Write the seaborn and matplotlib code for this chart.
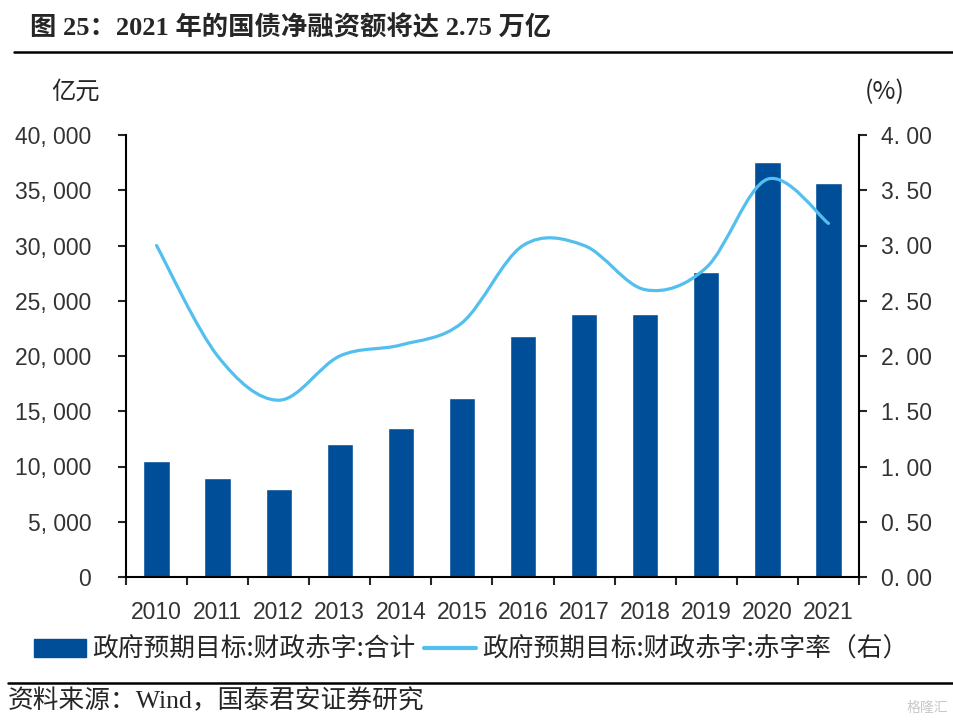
import matplotlib
matplotlib.use('Agg')
import matplotlib.pyplot as plt
import numpy as np
import pandas as pd
import seaborn as sns
from matplotlib.lines import Line2D
from matplotlib.patches import Patch, PathPatch
from matplotlib.path import Path
from matplotlib.ticker import FixedLocator

# Dados
anos = ['2010', '2011', '2012', '2013', '2014', '2015',
        '2016', '2017', '2018', '2019', '2020', '2021']
deficit = [10500, 9000, 8000, 12000, 13500, 16200,
           21800, 23800, 23800, 27600, 37600, 35700]   # 亿元
taxa = [3.0, 2.0, 1.6, 2.0, 2.1, 2.3, 3.0, 3.0, 2.6, 2.8, 3.6, 3.2]  # %

ticks_esq = [0, 5000, 10000, 15000, 20000, 25000, 30000, 35000, 40000]
ticks_dir = [0, 0.5, 1.0, 1.5, 2.0, 2.5, 3.0, 3.5, 4.0]

df = pd.DataFrame({'ano': anos, 'deficit': deficit, 'taxa': taxa})

azul = '#004E98'
azul_claro = '#52BFEF'
cinza = '#333333'

sns.set_style('ticks')
plt.rcParams['font.family'] = ['Noto Sans CJK SC', 'DejaVu Sans']
num = ['Liberation Sans', 'DejaVu Sans']
serif = ['Liberation Serif', 'Noto Sans CJK SC']

fig = plt.figure(figsize=(9.54, 7.25), dpi=100)
ax = fig.add_axes([126 / 954, 1 - 577 / 725, 733 / 954, 442 / 725])

# barras
sns.barplot(data=df, x='ano', y='deficit', color=azul, saturation=1,
            width=0.43, ax=ax)
ax.set_xlim(-0.5, len(anos) - 0.5)
ax.set_ylim(0, 40000)
ax.set_xlabel('')
ax.set_ylabel('')

ax.set_yticks(ticks_esq)
ax.set_yticklabels([f'{v:,.0f}'.replace(',', ', ') for v in ticks_esq],
                   fontfamily=num, fontsize=16.5, color=cinza)
ax.set_xticks(range(len(anos)))
ax.set_xticklabels(anos, fontfamily=num, fontsize=16.5, color=cinza)
ax.xaxis.set_minor_locator(FixedLocator(np.arange(-0.5, len(anos), 1)))
ax.tick_params(axis='x', which='major', length=0, pad=17)
ax.tick_params(axis='x', which='minor', length=6, width=1.5, direction='out')
ax.tick_params(axis='y', length=6, width=1.5, direction='out', pad=19)
for s in ['top', 'right']:
    ax.spines[s].set_visible(False)
for s in ['left', 'bottom']:
    ax.spines[s].set_linewidth(1.5)
    ax.spines[s].set_color('black')

# eixo da direita - taxa de deficit
ax2 = ax.twinx()
ax2.set_ylim(0, 4)
ax2.set_yticks(ticks_dir)
ax2.set_yticklabels([f'{v:.2f}'.replace('.', '. ') for v in ticks_dir],
                    fontfamily=num, fontsize=16.5, color=cinza)
ax2.tick_params(axis='y', length=6, width=1.5, direction='out', pad=10)
for s in ['top', 'left', 'bottom']:
    ax2.spines[s].set_visible(False)
ax2.spines['right'].set_linewidth(1.5)
ax2.spines['right'].set_color('black')

# linha suavizada (curva de Bezier pelos pontos)
pts = np.column_stack([np.arange(len(taxa)), taxa]).astype(float)
n = len(pts)
verts = [pts[0]]
codes = [Path.MOVETO]
for i in range(n - 1):
    p0 = pts[max(i - 1, 0)]
    p1 = pts[i]
    p2 = pts[i + 1]
    p3 = pts[min(i + 2, n - 1)]
    verts += [p1 + (p2 - p0) / 6, p2 - (p3 - p1) / 6, p2]
    codes += [Path.CURVE4] * 3
ax2.add_patch(PathPatch(Path(verts, codes), facecolor='none',
                        edgecolor=azul_claro, lw=2.3, capstyle='round'))

# unidades
fig.text(75 / 954, 1 - 92 / 725, '亿元', ha='center', va='center', fontsize=17.5)
fig.text(885 / 954, 1 - 92 / 725, '(%)', ha='center', va='center', fontsize=18)

# titulo
fig.text(30 / 954, 1 - 28 / 725, '图 25：2021 年的国债净融资额将达 2.75 万亿',
         fontsize=19, fontweight='bold', family=serif, va='center')
fig.add_artist(Line2D([14 / 954, 1], [1 - 52 / 725] * 2, color='black',
                      lw=1.8, transform=fig.transFigure))

# legenda
handles = [Patch(color=azul), Line2D([], [], color=azul_claro, lw=3)]
labels = ['政府预期目标:财政赤字:合计', '政府预期目标:财政赤字:赤字率（右）']
fig.legend(handles=handles, labels=labels, loc='center',
           bbox_to_anchor=(0.494, 1 - 650 / 725), ncol=2, frameon=False,
           fontsize=18.5, handlelength=2.0, handletextpad=0.25,
           columnspacing=0.35)

# fonte
fig.add_artist(Line2D([8 / 954, 1], [1 - 683 / 725] * 2, color='black',
                      lw=1.8, transform=fig.transFigure))
fig.text(8 / 954, 1 - 701 / 725, '资料来源：Wind，国泰君安证券研究',
         fontsize=18.5, family=serif, va='center')
fig.text(948 / 954, 1 - 708 / 725, '格隆汇', fontsize=10, color='#c8c8c8',
         ha='right', va='center')

fig.savefig('out.png', dpi=100)
